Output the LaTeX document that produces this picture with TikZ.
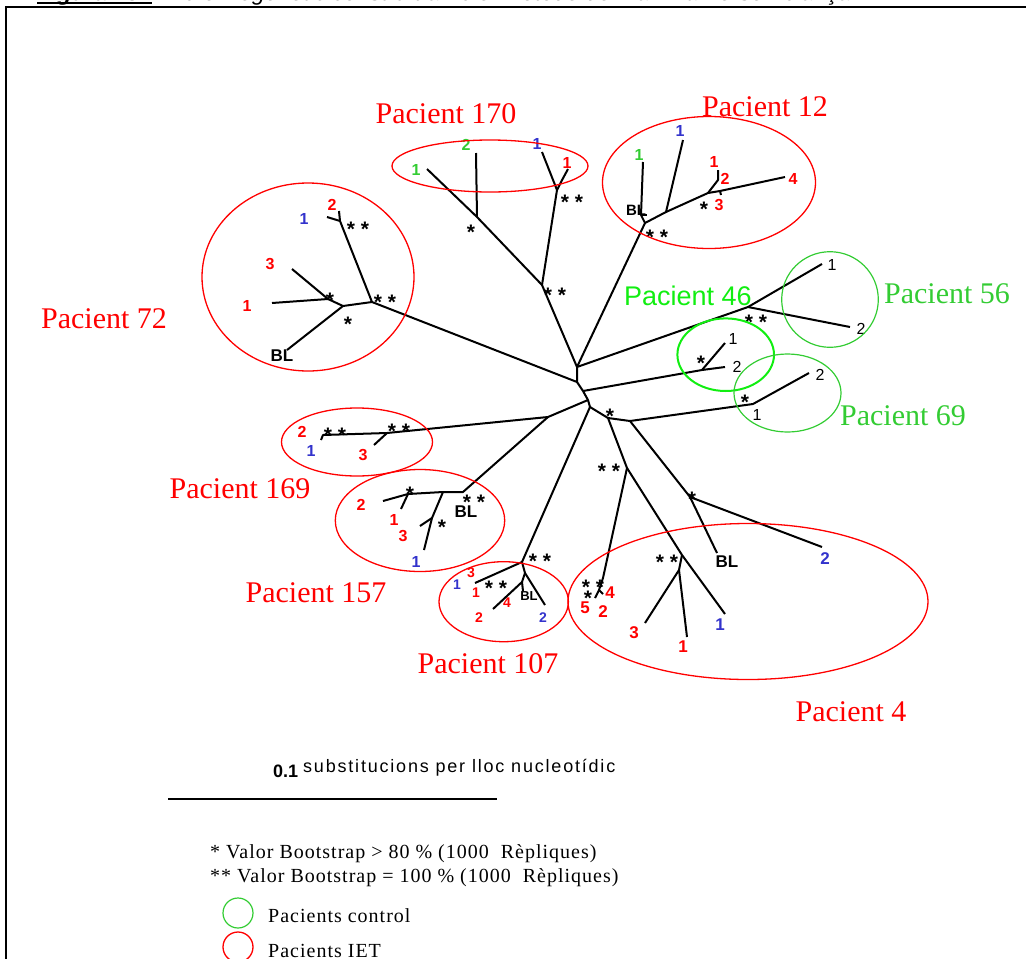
\documentclass[tikz,border=0pt]{standalone}
\usepackage{fontspec}
\setmainfont{Liberation Serif}
\setsansfont{Liberation Sans}
\newfontfamily\legendFont[LetterSpace=5]{Liberation Serif}
\newfontfamily\scaleFont[LetterSpace=10]{Liberation Sans}
\usetikzlibrary{positioning}

\begin{document}
\begin{tikzpicture}[x=1pt, y=-1pt]
    \definecolor{borderColour}{HTML}{000000}
    \definecolor{iet}{HTML}{FF0000}
    \definecolor{ctrl}{HTML}{33CC33}
    \definecolor{ctrlBright}{HTML}{11EE11}
    \definecolor{seqBlue}{HTML}{3333CC}

    \tikzset{
        branch/.style={draw=borderColour, line width=2pt, line join=round},
        leaf/.style={font=\sffamily\bfseries\fontsize{16}{16}\selectfont, inner sep=0pt},
        leafplain/.style={font=\sffamily\fontsize{16}{16}\selectfont, inner sep=0pt},
        boot/.style={font=\sffamily\bfseries\fontsize{21}{21}\selectfont, inner sep=0pt, yshift=-4.5pt},
        patient/.style={font=\fontsize{30}{30}\selectfont, inner sep=0pt, text=iet},
        ietring/.style={draw=iet, line width=1.3pt},
        ctrlring/.style={draw=ctrl, line width=1.2pt},
        legend/.style={font=\legendFont\fontsize{20}{20}\selectfont, anchor=base west, inner sep=0pt},
    }

    \useasboundingbox (0,0) rectangle (1026,959);

    % Frame and caption
    \draw[line width=1.5pt] (6,1000) -- (6,7) -- (1040,7);
    \node[anchor=base west, inner sep=0pt, font=\sffamily\bfseries\itshape\fontsize{23}{23}\selectfont] (figNum) at (37,0.5) {Figura 28.};
    \node[anchor=base west, inner sep=0pt, font=\sffamily\itshape\fontsize{23}{23}\selectfont] (figText) at (160,0.5) {Arbre filogenètic construït amb el mètode de Màxima Versemblança.};
    \draw[line width=2.5pt] (figNum.base west) ++(0,2.5) -- ++(115,0);

    % Centre of the tree
    \coordinate (c1) at (577,367);
    \coordinate (c2) at (577,382);
    \coordinate (c3) at (583,391);
    \coordinate (c4) at (588,400);
    \coordinate (c5) at (590,407);
    \coordinate (c6) at (608,418);
    \coordinate (c7) at (630,421);
    \draw[branch] (c1) -- (c2) -- (c3) -- (c4) -- (c5) -- (c6) -- (c7);
    \node[boot] (s6) at (610,412) {*};

    % Pacient 72
    \coordinate (n72) at (372,302);
    \coordinate (a72) at (340,221);
    \coordinate (l72two) at (339,211);
    \coordinate (l72one) at (327,217);
    \coordinate (b72) at (343,306);
    \coordinate (d72) at (328,299);
    \coordinate (l72three) at (292,269);
    \coordinate (l72red) at (272,303);
    \coordinate (l72bl) at (287,350);
    \draw[branch] (c2) -- (n72) -- (a72) -- (l72two);
    \draw[branch] (a72) -- (l72one);
    \draw[branch] (n72) -- (b72) -- (d72) -- (l72three);
    \draw[branch] (d72) -- (l72red);
    \draw[branch] (b72) -- (l72bl);
    \node[boot] (s72a) at (385,298) {* *};
    \node[boot] (s72b) at (358,225) {* *};
    \node[boot] (s72c) at (348,320) {*};
    \node[boot] (s72d) at (330,296) {*};
    \node[leaf, text=iet] (t72a) at (332,205) {2};
    \node[leaf, text=seqBlue] (t72b) at (304,219) {1};
    \node[leaf, text=iet] (t72c) at (270,264) {3};
    \node[leaf, text=iet] (t72d) at (247,306) {1};
    \node[leaf, font=\sffamily\bfseries\fontsize{17}{17}\selectfont] (t72e) at (282,356) {BL};
    \draw[ietring] (308,277) ellipse [x radius=106pt, y radius=94pt];
    \node[patient] (p72) at (104,319) {Pacient 72};

    % Pacient 170
    \coordinate (n170) at (542,285);
    \coordinate (a170) at (477,217);
    \coordinate (l170g) at (427,169);
    \coordinate (l170h) at (476,153);
    \coordinate (b170) at (557,190);
    \coordinate (f170) at (561,182);
    \coordinate (l170b) at (542,152);
    \coordinate (l170r) at (568,169);
    \draw[branch] (c1) -- (n170) -- (a170) -- (l170g);
    \draw[branch] (a170) -- (l170h);
    \draw[branch] (n170) -- (b170) -- (l170b);
    \draw[branch] (b170) -- (f170) -- (l170r);
    \node[boot] (s170a) at (555,291) {* *};
    \node[boot] (s170b) at (572,198) {* *};
    \node[boot] (s170c) at (471,228) {*};
    \node[leaf, text=ctrl] (t170a) at (416,170) {1};
    \node[leaf, text=ctrl] (t170b) at (466,145) {2};
    \node[leaf, text=seqBlue] (t170c) at (537,144) {1};
    \node[leaf, text=iet] (t170d) at (567,163) {1};
    \draw[ietring] (490,166) ellipse [x radius=98pt, y radius=26pt];
    \node[patient] (p170) at (446,114) {Pacient 170};

    % Pacient 12
    \coordinate (n12) at (645,223);
    \coordinate (bl12) at (641,215);
    \coordinate (l12g) at (643,162);
    \coordinate (a12) at (666,212);
    \coordinate (l12b) at (683,140);
    \coordinate (b12) at (708,193);
    \coordinate (f12) at (718,180);
    \coordinate (l12one) at (718,170);
    \coordinate (l12four) at (785,177);
    \coordinate (k12) at (720,191);
    \coordinate (l12three) at (721,195);
    \draw[branch] (c1) -- (n12) -- (bl12) -- (l12g);
    \draw[branch] (bl12) -- ++(6,0);
    \draw[branch] (n12) -- (a12) -- (l12b);
    \draw[branch] (a12) -- (b12) -- (f12) -- (l12one);
    \draw[branch] (b12) -- (k12) -- (l12four);
    \draw[branch] (k12) -- (l12three);
    \node[boot] (s12a) at (657,233) {* *};
    \node[boot] (s12b) at (704,205) {*};
    \node[leaf, font=\sffamily\bfseries\fontsize{15}{15}\selectfont] (t12bl) at (636,210) {BL};
    \node[leaf, text=ctrl] (t12a) at (639,155) {1};
    \node[leaf, text=seqBlue] (t12b) at (680,131) {1};
    \node[leaf, text=iet] (t12c) at (714,162) {1};
    \node[leaf, text=iet] (t12d) at (725,179) {2};
    \node[leaf, text=iet] (t12e) at (719,205) {3};
    \node[leaf, text=iet] (t12f) at (793,179) {4};
    \draw[ietring] (709,182.5) ellipse [x radius=106.5pt, y radius=66pt];
    \node[patient] (p12) at (765,107) {Pacient 12};

    % Pacient 56
    \coordinate (n56) at (748,307);
    \coordinate (l56a) at (822,264);
    \coordinate (l56b) at (850,327);
    \draw[branch] (c1) -- (n56) -- (l56a);
    \draw[branch] (n56) -- (l56b);
    \node[boot] (s56) at (756,318) {* *};
    \node[leafplain] (t56a) at (832,265) {1};
    \node[leafplain] (t56b) at (861,329) {2};
    \draw[ctrlring] (830,299.5) ellipse [x radius=48.3pt, y radius=47.8pt];
    \node[patient, text=ctrl] (p56) at (947,294) {Pacient 56};

    % Pacient 46
    \coordinate (n46) at (702,370);
    \coordinate (l46a) at (725,343);
    \coordinate (l46b) at (725,367);
    \draw[branch] (c3) -- (n46) -- (l46b);
    \draw[branch] (n46) -- (l46a);
    \node[boot] (s46) at (701,359) {*};
    \node[leafplain] (t46a) at (733,339) {1};
    \node[leafplain] (t46b) at (737,367) {2};
    \draw[draw=ctrlBright, line width=2pt] (725.7,354.7) ellipse [x radius=48.3pt, y radius=36.3pt];
    \node[font=\sffamily\fontsize{27}{27}\selectfont, text=ctrlBright, inner sep=0pt] (p46) at (688,296) {Pacient 46};

    % Pacient 69
    \coordinate (n69) at (753,404);
    \coordinate (l69a) at (809,373);
    \draw[branch] (c7) -- (n69) -- (l69a);
    \node[boot] (s69) at (745,398) {*};
    \node[leafplain] (t69a) at (820,375) {2};
    \node[leafplain] (t69b) at (757,415) {1};
    \draw[ctrlring] (787.5,393) ellipse [x radius=53.5pt, y radius=39pt];
    \node[patient, text=ctrl] (p69) at (903,416) {Pacient 69};

    % Pacient 4
    \coordinate (n4a) at (627,468);
    \coordinate (n4b) at (682,555);
    \coordinate (f4b) at (679,570);
    \coordinate (l4three) at (645,623);
    \coordinate (l4one) at (687,637);
    \coordinate (l4blue) at (725,614);
    \coordinate (n4c) at (603,578);
    \coordinate (f4c) at (599,590);
    \coordinate (l4five) at (595,598);
    \coordinate (l4four) at (603,594);
    \coordinate (n4d) at (690,497);
    \coordinate (l4bl) at (717,553);
    \coordinate (l4two) at (822,547);
    \draw[branch] (c6) -- (n4a) -- (n4b) -- (l4blue);
    \draw[branch] (n4b) -- (f4b) -- (l4three);
    \draw[branch] (f4b) -- (l4one);
    \draw[branch] (n4a) -- (n4c) -- (f4c) -- (l4five);
    \draw[branch] (f4c) -- (l4four);
    \draw[branch] (c7) -- (n4d) -- (l4bl);
    \draw[branch] (n4d) -- (l4two);
    \node[boot] (s4a) at (609,467) {* *};
    \node[boot] (s4b) at (667,558) {* *};
    \node[boot] (s4c) at (593,583) {* *};
    \node[boot] (s4d) at (588,594) {*};
    \node[boot] (s4e) at (692,495) {*};
    \node[leaf, text=iet, font=\sffamily\bfseries\fontsize{17}{17}\selectfont] (t4a) at (610,593) {4};
    \node[leaf, text=iet, font=\sffamily\bfseries\fontsize{17}{17}\selectfont] (t4b) at (585,608) {5};
    \node[leaf, text=iet, font=\sffamily\bfseries\fontsize{17}{17}\selectfont] (t4c) at (603,612) {2};
    \node[leaf, text=iet, font=\sffamily\bfseries\fontsize{17}{17}\selectfont] (t4d) at (634,633) {3};
    \node[leaf, text=iet, font=\sffamily\bfseries\fontsize{17}{17}\selectfont] (t4e) at (683,647) {1};
    \node[leaf, text=seqBlue, font=\sffamily\bfseries\fontsize{17}{17}\selectfont] (t4f) at (720,625) {1};
    \node[leaf, font=\sffamily\bfseries\fontsize{17}{17}\selectfont] (t4g) at (727,562) {BL};
    \node[leaf, text=seqBlue, font=\sffamily\bfseries\fontsize{17}{17}\selectfont] (t4h) at (825,559) {2};
    \draw[ietring] (748,601.5) ellipse [x radius=180pt, y radius=78pt];
    \node[patient] (p4) at (851,712) {Pacient 4};

    % Pacient 169
    \coordinate (n16) at (548,417);
    \coordinate (a169) at (387,433);
    \coordinate (b169) at (323,435);
    \coordinate (l169tick) at (321,440);
    \coordinate (l169three) at (374,445);
    \draw[branch] (c4) -- (n16) -- (a169) -- (b169) -- (l169tick);
    \draw[branch] (a169) -- (l169three);
    \node[boot] (s169a) at (399,427) {* *};
    \node[boot] (s169b) at (335,431) {* *};
    \node[leaf, text=iet] (t169a) at (302,432) {2};
    \node[leaf, text=seqBlue] (t169b) at (311,451) {1};
    \node[leaf, text=iet] (t169c) at (363,455) {3};
    \draw[ietring] (357,442) ellipse [x radius=75.5pt, y radius=34pt];
    \node[patient] (p169) at (240,489) {Pacient 169};

    % Pacient 157
    \coordinate (n157) at (463,492);
    \coordinate (a157) at (443,492);
    \coordinate (b157) at (408,494);
    \coordinate (l157two) at (383,501);
    \coordinate (l157one) at (401,509);
    \coordinate (c157) at (432,518);
    \coordinate (l157three) at (420,526);
    \coordinate (l157blue) at (424,550);
    \draw[branch] (n16) -- (n157) -- (a157) -- (b157) -- (l157two);
    \draw[branch] (b157) -- (l157one);
    \draw[branch] (a157) -- (c157) -- (l157blue);
    \draw[branch] (c157) -- (l157three);
    \node[boot] (s157a) at (474,498) {* *};
    \node[boot] (s157b) at (410,490) {*};
    \node[boot] (s157c) at (442,523) {*};
    \node[leaf, font=\sffamily\bfseries\fontsize{17}{17}\selectfont] (t157bl) at (466,512) {BL};
    \node[leaf, text=iet] (t157a) at (361,505) {2};
    \node[leaf, text=iet] (t157b) at (394,520) {1};
    \node[leaf, text=iet] (t157c) at (403,536) {3};
    \node[leaf, text=seqBlue] (t157d) at (416,562) {1};
    \draw[ietring] (420,520.5) ellipse [x radius=84.7pt, y radius=51pt];
    \node[patient] (p157) at (316,593) {Pacient 157};

    % Pacient 107
    \coordinate (n107) at (522,562);
    \coordinate (l107one) at (475,583);
    \coordinate (b107) at (525,573);
    \coordinate (l107blue) at (545,605);
    \coordinate (d107) at (522,582);
    \coordinate (l107two) at (493,609);
    \coordinate (l107bl) at (523,591);
    \draw[branch] (c5) -- (n107) -- (l107one);
    \draw[branch] (n107) -- (b107) -- (l107blue);
    \draw[branch] (b107) -- (d107) -- (l107two);
    \draw[branch] (d107) -- (l107bl);
    \node[boot] (s107a) at (540,557) {* *};
    \node[boot] (s107b) at (496,584) {* *};
    \node[leaf, text=iet, font=\sffamily\bfseries\fontsize{14}{14}\selectfont] (t107a) at (471,573) {3};
    \node[leaf, text=iet, font=\sffamily\bfseries\fontsize{14}{14}\selectfont] (t107b) at (476,593) {1};
    \node[leaf, text=seqBlue, font=\sffamily\bfseries\fontsize{14}{14}\selectfont] (t107c) at (457,585) {1};
    \node[leaf, text=iet, font=\sffamily\bfseries\fontsize{14}{14}\selectfont] (t107d) at (507,603) {4};
    \node[leaf, text=iet, font=\sffamily\bfseries\fontsize{14}{14}\selectfont] (t107e) at (479,618) {2};
    \node[leaf, text=seqBlue, font=\sffamily\bfseries\fontsize{14}{14}\selectfont] (t107f) at (543,618) {2};
    \node[leaf, font=\sffamily\bfseries\fontsize{13}{13}\selectfont] (t107bl) at (529,596) {BL};
    \draw[ietring] (503.7,601.7) ellipse [x radius=64.7pt, y radius=40pt];
    \node[patient] (p107) at (488,664) {Pacient 107};

    % Scale bar
    \coordinate (scaleL) at (168,799);
    \coordinate (scaleR) at (497,799);
    \draw[line width=1.5pt] (scaleL) -- (scaleR);
    \node[anchor=base west, inner sep=0pt, font=\sffamily\bfseries\fontsize{18}{18}\selectfont] (scaleVal) at (273,777) {0.1};
    \node[anchor=base west, inner sep=0pt, font=\scaleFont\fontsize{18}{18}\selectfont] (scaleText) at (303,772) {substitucions per lloc nucleotídic};

    % Legend
    \node[legend] (leg1) at (210,858) {* Valor Bootstrap > 80 \% (1000\ \ Rèpliques)};
    \node[legend] (leg2) at (210,882) {** Valor Bootstrap = 100 \% (1000\ \ Rèpliques)};
    \draw[ctrlring] (238,913) circle [radius=15pt];
    \node[legend] (leg3) at (268,922) {Pacients control};
    \draw[ietring] (238,947) circle [radius=15pt];
    \node[legend] (leg4) at (268,957) {Pacients IET};

\end{tikzpicture}
\end{document}
